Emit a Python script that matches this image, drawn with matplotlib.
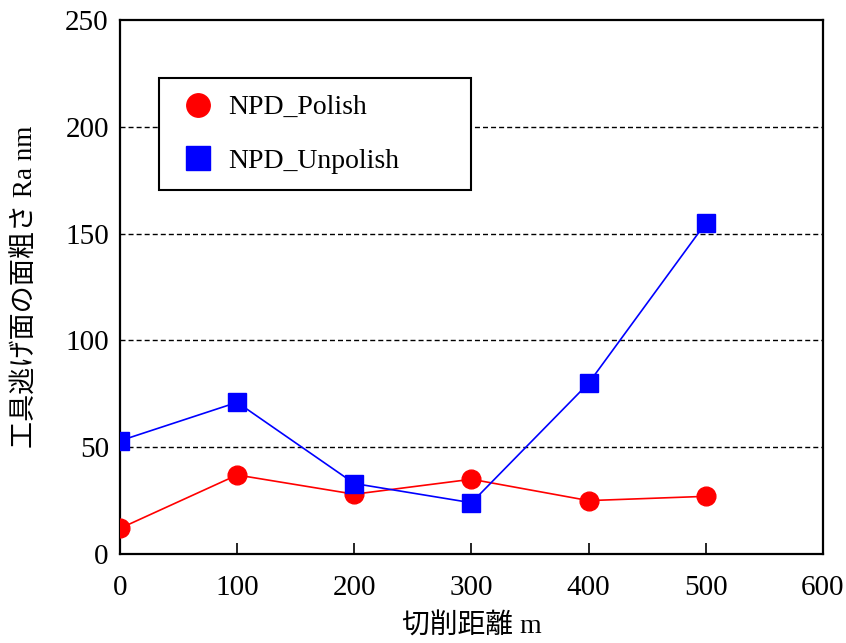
import matplotlib
matplotlib.use("Agg")
import matplotlib.pyplot as plt

plt.rcParams['font.family'] = ['Liberation Serif', 'Noto Sans CJK JP']

# cutting distance (m) and surface roughness Ra (nm)
distance = [0, 100, 200, 300, 400, 500]
polish = [12, 37, 28, 35, 25, 27]
unpolish = [53, 71, 33, 24, 80, 155]

x_ticks = [0, 100, 200, 300, 400, 500, 600]
y_ticks = [0, 50, 100, 150, 200, 250]
grid_levels = [50, 100, 150, 200]

fig = plt.figure(figsize=(8.46, 6.43), dpi=100)
ax = fig.add_axes([0.1418, 0.1384, 0.8310, 0.8305])

for g in grid_levels:
    ax.axhline(g, color='black', lw=1.0, ls=(0, (3.6, 2.2)), zorder=1)

ax.plot(distance, polish, color='#ff0000', lw=1.2, marker='o', ms=13.5,
        mec='#ff0000', mfc='#ff0000', label='NPD_Polish', zorder=3)
ax.plot(distance, unpolish, color='#0000ff', lw=1.2, marker='s', ms=13.5,
        mec='#0000ff', mfc='#0000ff', label='NPD_Unpolish', zorder=3)

ax.set_xlim(0, 600)
ax.set_ylim(0, 250)
ax.set_xticks(x_ticks)
ax.set_yticks(y_ticks)
ax.tick_params(axis='x', direction='in', length=8, width=1.2, pad=15, labelsize=21)
ax.tick_params(axis='y', length=0, pad=8, labelsize=21)
for s in ax.spines.values():
    s.set_linewidth(1.6)

ax.set_xlabel('切削距離 m', fontsize=20, labelpad=9)
ax.set_ylabel('工具逃げ面の面粗さ Ra nm', fontsize=19.5, labelpad=19)

leg = ax.legend(loc='upper left', bbox_to_anchor=(0.055, 0.689, 0.445, 0.202),
                mode='expand', fontsize=20,
                frameon=True, fancybox=False, edgecolor='black', framealpha=1,
                borderpad=0.6, labelspacing=1.0, handlelength=1.6,
                handletextpad=0.3, borderaxespad=0, markerscale=1.25)
leg.get_frame().set_linewidth(1.5)
for h in leg.legend_handles:
    h.set_linestyle('none')

fig.savefig('out.png', dpi=100)
